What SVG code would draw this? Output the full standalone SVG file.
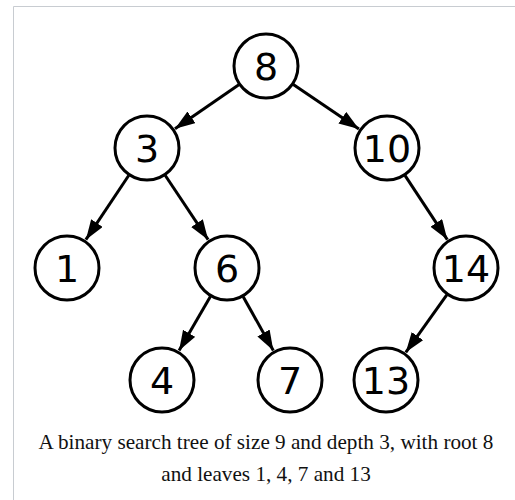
<svg xmlns="http://www.w3.org/2000/svg" width="515" height="500" viewBox="0 0 515 500">
<style>
.node circle{fill:#fff;stroke:#000;stroke-width:3}
.node text{font-family:"DejaVu Sans",sans-serif;font-size:38px;text-anchor:middle;fill:#000}
.edge{stroke:#000;stroke-width:3;fill:none;marker-end:url(#arrow)}
.cap{font-family:"Liberation Serif","Times New Roman",serif;font-size:21.2px;text-anchor:middle;fill:#111}
.frame{stroke:#c8ccd1;stroke-width:1;fill:none}
</style>
<defs>
<marker id="arrow" markerUnits="userSpaceOnUse" markerWidth="22" markerHeight="16" refX="20" refY="7" orient="auto">
<path d="M0,0 L20,7 L0,14 z" fill="#000"/>
</marker>
</defs>
<rect width="515" height="500" fill="#fff"/>
<path class="frame" d="M13.5,500 V6.5 H515"/>
<g id="connectors">
<line class="edge" x1="238.8" y1="84.7" x2="175.0" y2="128.7"/>
<line class="edge" x1="293.3" y1="84.5" x2="358.9" y2="128.9"/>
<line class="edge" x1="128.7" y1="175.5" x2="85.9" y2="239.7"/>
<line class="edge" x1="165.3" y1="175.5" x2="208.1" y2="239.7"/>
<line class="edge" x1="405.1" y1="175.6" x2="447.3" y2="239.6"/>
<line class="edge" x1="210.4" y1="296.5" x2="179.1" y2="350.6"/>
<line class="edge" x1="243.2" y1="296.8" x2="273.3" y2="350.4"/>
<line class="edge" x1="446.8" y1="294.9" x2="405.8" y2="352.3"/>
</g>
<g id="n8" class="node"><circle cx="266" cy="66" r="32"/><text x="266" y="80">8</text></g>
<g id="n3" class="node"><circle cx="147" cy="148" r="32"/><text x="147" y="162">3</text></g>
<g id="n10" class="node"><circle cx="387" cy="148" r="32"/><text x="387" y="162">10</text></g>
<g id="n1" class="node"><circle cx="67" cy="268" r="32"/><text x="67" y="282">1</text></g>
<g id="n6" class="node"><circle cx="227" cy="268" r="32"/><text x="227" y="282">6</text></g>
<g id="n14" class="node"><circle cx="466" cy="268" r="32"/><text x="466" y="282">14</text></g>
<g id="n4" class="node"><circle cx="162" cy="380" r="32"/><text x="162" y="394">4</text></g>
<g id="n7" class="node"><circle cx="290" cy="380" r="32"/><text x="290" y="394">7</text></g>
<g id="n13" class="node"><circle cx="386" cy="380" r="32"/><text x="386" y="394">13</text></g>
<text class="cap" x="266" y="449">A binary search tree of size 9 and depth 3, with root 8</text>
<text class="cap" x="266" y="481">and leaves 1, 4, 7 and 13</text>
</svg>
